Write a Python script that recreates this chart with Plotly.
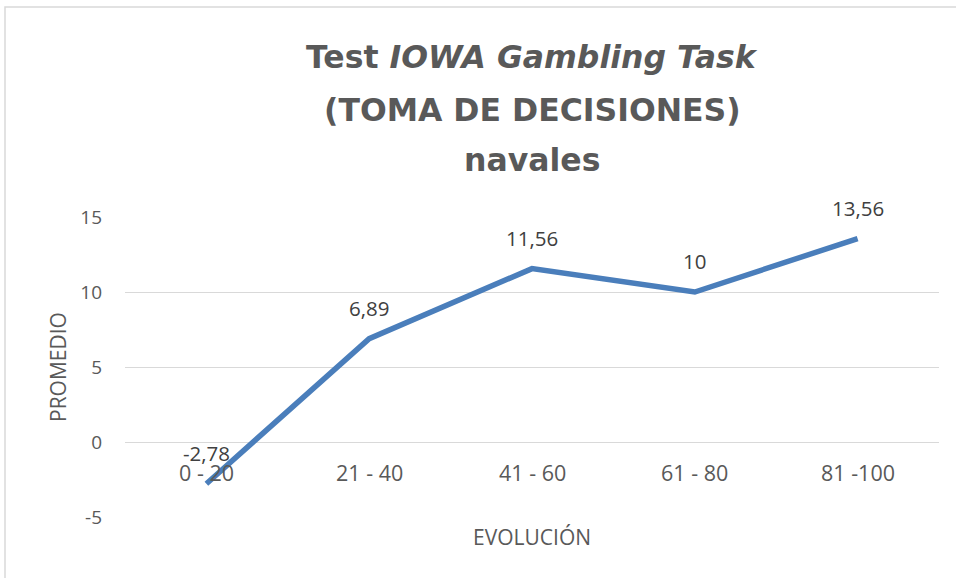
import plotly.graph_objects as go

categories = ["0 - 20", "21 - 40", "41 - 60", "61 - 80", "81 -100"]
values = [-2.78, 6.89, 11.56, 10, 13.56]
value_labels = ["-2,78", "6,89", "11,56", "10", "13,56"]
y_ticks = [-5, 0, 5, 10, 15]

FONT = "Open Sans, sans-serif"
TFONT = "DejaVu Sans, sans-serif"
GRAY = "#595959"

fig = go.Figure()
fig.add_trace(go.Scatter(
    x=list(range(len(categories))), y=values, mode="lines",
    line=dict(color="#4A7EBB", width=5.5), hoverinfo="skip"))

ann = []
for i, (v, t) in enumerate(zip(values, value_labels)):
    ann.append(dict(x=i, y=v, text=t, showarrow=False, xref="x", yref="y",
                    yshift=31, font=dict(family=FONT, size=20.5, color="#404040")))
for i, c in enumerate(categories):
    ann.append(dict(x=i, y=0, text=c, showarrow=False, xref="x", yref="y",
                    yshift=-30, font=dict(family=FONT, size=21.5, color=GRAY)))

title_lines = ["<b>Test <i>IOWA Gambling Task</i></b>", "<b>(TOMA DE DECISIONES)</b>",
               "<b>navales</b>"]
title_py = [57, 110, 160]
for t, py in zip(title_lines, title_py):
    ann.append(dict(x=0.5, y=(517 - py) / 300, xref="paper", yref="paper", text=t,
                    showarrow=False, font=dict(family=TFONT, size=31.5, color=GRAY),
                    yanchor="middle"))
ann.append(dict(x=(532 - 125) / 814, y=(517 - 537) / 300, xref="paper", yref="paper",
                text="EVOLUCIÓN", showarrow=False, yanchor="middle",
                font=dict(family=FONT, size=21, color=GRAY)))
ann.append(dict(x=(58 - 125) / 814, y=0.5, xref="paper", yref="paper",
                text="PROMEDIO", showarrow=False, textangle=-90, xanchor="center",
                font=dict(family=FONT, size=21, color=GRAY)))

fig.update_layout(
    width=956, height=578,
    margin=dict(l=125, r=17, t=217, b=61),
    paper_bgcolor="white", plot_bgcolor="white",
    showlegend=False,
    annotations=ann,
    xaxis=dict(range=[-0.5, len(categories) - 0.5], showticklabels=False,
               showgrid=False, zeroline=False, showline=False, fixedrange=True),
    yaxis=dict(range=[-5, 15], tickvals=y_ticks, ticktext=[str(t) for t in y_ticks],
               showgrid=True, gridcolor="#D9D9D9", gridwidth=1.3, zeroline=False,
               showline=False, ticks="", ticklabelstandoff=22,
               tickfont=dict(family=FONT, size=19, color=GRAY)),
    shapes=[dict(type="rect", xref="paper", yref="paper",
                 x0=(5 - 125) / 814, x1=1.05, y0=-0.3, y1=(517 - 7) / 300,
                 line=dict(color="#D9D9D9", width=1.5), fillcolor="rgba(0,0,0,0)",
                 layer="below")],
)

fig.write_html("out.html", config={"displayModeBar": False},
               post_script="document.body.style.margin='0';")
